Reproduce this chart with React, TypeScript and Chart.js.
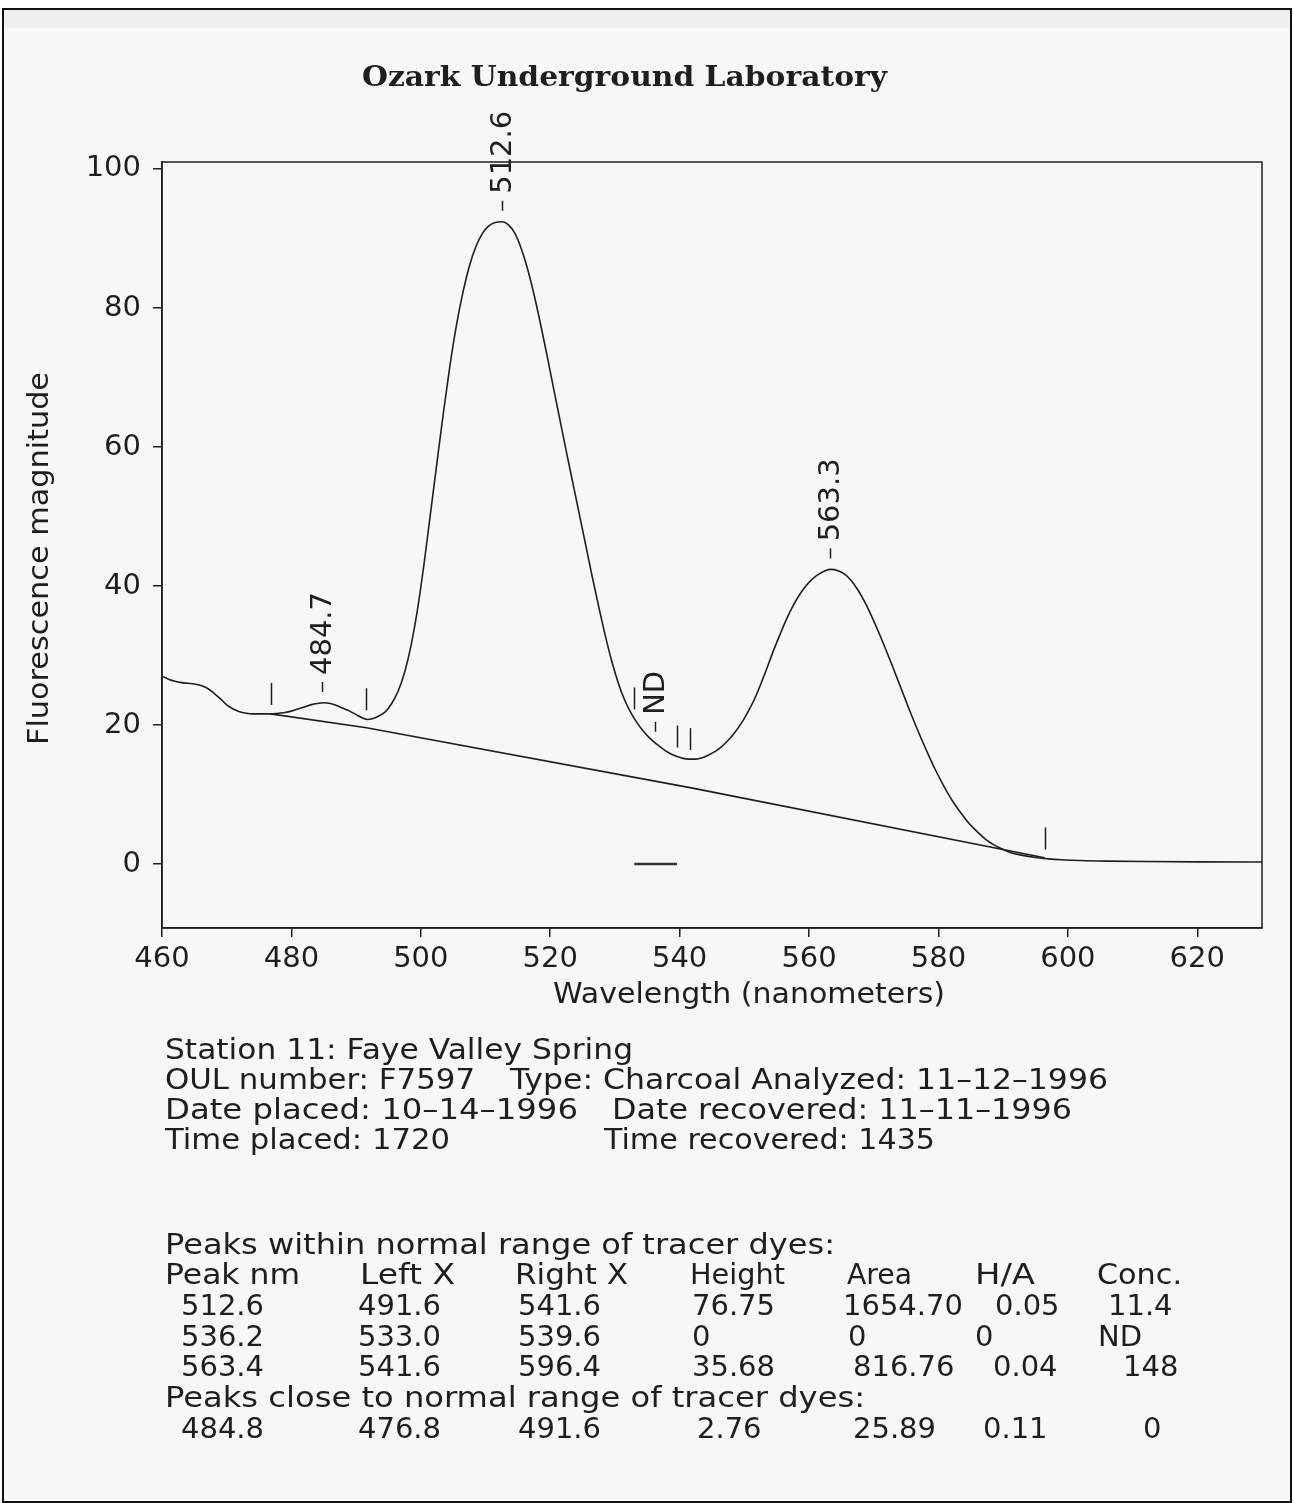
import React, { useEffect, useRef } from "react";
import { Chart, registerables } from "chart.js";

Chart.register(...registerables);

// ---------- DATA ----------
const wavelengths = [
  460, 461, 462, 463, 464, 465, 466, 467, 468, 469, 470, 471, 472, 473, 474, 475, 476, 477,
  478, 479, 480, 481, 482, 483, 484, 485, 486, 487, 488, 489, 490, 491, 491.7, 492.5, 493.5,
  494.5, 495.5, 496.5, 497.5, 498.5, 499.5, 500.5, 501.5, 502.5, 503.5, 504.5, 505.5, 506.5,
  507.5, 508.5, 509.5, 510.5, 511.5, 512.6, 513.5, 514.5, 515.5, 516.5, 517.5, 518.5, 519.5,
  520.5, 521.5, 522.5, 523.5, 524.5, 525.5, 526.5, 527.5, 528.5, 529.5, 530.5, 531.5, 532.5,
  533.5, 534.5, 535.5, 536.5, 537.5, 538.5, 539.5, 540.5, 541.5, 542.5, 543.5, 544.5, 545.5,
  546.5, 547.5, 548.5, 549.5, 550.5, 551.5, 552.5, 553.5, 554.5, 555.5, 556.5, 557.5, 558.5,
  559.5, 560.5, 561.5, 562.5, 563.3, 564.5, 565.5, 566.5, 567.5, 568.5, 569.5, 570.5, 571.5,
  572.5, 573.5, 574.5, 575.5, 576.5, 577.5, 578.5, 579.5, 580.5, 581.5, 582.5, 583.5, 584.5,
  585.5, 586.5, 587.5, 588.5, 589.5, 591, 593, 595, 597, 599, 602, 606, 612, 620, 630,
];
const magnitudes = [
  27.0, 26.6, 26.3, 26.1, 26.0, 25.9, 25.7, 25.3, 24.6, 23.8, 22.9, 22.3, 21.9, 21.7, 21.6, 21.6, 21.6, 21.6,
  21.7, 21.8, 22.0, 22.3, 22.6, 22.9, 23.1, 23.2, 23.1, 22.8, 22.4, 22.0, 21.5, 21.0, 20.8, 20.9, 21.3,
  21.9, 23.1, 24.9, 27.6, 31.5, 36.7, 43.2, 50.5, 57.8, 65.0, 71.7, 77.5, 82.2,
  86.0, 88.8, 90.7, 91.8, 92.3, 92.4, 92.0, 90.8, 88.6, 85.6, 81.9, 77.7, 73.2,
  68.5, 63.9, 59.3, 54.8, 50.3, 45.8, 41.3, 37.0, 32.9, 29.2, 26.1, 23.6, 21.7,
  20.2, 19.0, 18.0, 17.2, 16.5, 15.9, 15.5, 15.2, 15.1, 15.1, 15.3, 15.7, 16.2,
  16.9, 17.8, 18.9, 20.2, 21.8, 23.6, 25.8, 28.2, 30.7, 33.0, 35.2, 37.1, 38.7,
  40.0, 41.0, 41.7, 42.2, 42.4, 42.2, 41.7, 40.8, 39.5, 37.9, 36.0, 33.9, 31.7,
  29.4, 27.0, 24.6, 22.2, 19.9, 17.7, 15.6, 13.6, 11.8, 10.1, 8.6, 7.3, 6.1,
  5.1, 4.2, 3.4, 2.8, 2.3, 1.7, 1.25, 0.95, 0.75, 0.62, 0.5, 0.42, 0.36, 0.32, 0.3,
];
const baselineX = [476.8, 491.6, 541.6, 596.4];
const baselineY = [21.6, 19.6, 11.0, 0.9];
const ndBaseX = [533.0, 539.6];
const ndBaseY = [0, 0];
const boundaryMarks = [476.8, 491.6, 533.0, 539.6, 541.6, 596.4];
const peakLabelX = [484.7, 512.6, 536.2, 563.3];
const peakLabelText = ["484.7", "512.6", "ND", "563.3"];
const xTicks = [460, 480, 500, 520, 540, 560, 580, 600, 620];
const yTicks = [0, 20, 40, 60, 80, 100];

const titleText = "Ozark Underground Laboratory";
const xTitle = "Wavelength (nanometers)";
const yTitle = "Fluorescence magnitude";

const infoLine1 = ["Station 11: Faye Valley Spring"];
const infoLine2 = ["OUL number: F7597", "Type: Charcoal Analyzed: 11\u201312\u20131996"];
const infoLine3 = ["Date placed: 10\u201314\u20131996", "Date recovered: 11\u201311\u20131996"];
const infoLine4 = ["Time placed: 1720", "Time recovered: 1435"];

const withinHeading = "Peaks within normal range of tracer dyes:";
const closeHeading = "Peaks close to normal range of tracer dyes:";
const tableHeaders = ["Peak nm", "Left X", "Right X", "Height", "Area", "H/A", "Conc."];
const withinRow1 = ["512.6", "491.6", "541.6", "76.75", "1654.70", "0.05", "11.4"];
const withinRow2 = ["536.2", "533.0", "539.6", "0", "0", "0", "ND"];
const withinRow3 = ["563.4", "541.6", "596.4", "35.68", "816.76", "0.04", "148"];
const closeRow1 = ["484.8", "476.8", "491.6", "2.76", "25.89", "0.11", "0"];

// ---------- LAYOUT ----------
const W = 1294;
const H = 1503;
const SANS = '"DejaVu Sans", sans-serif';
const SERIF = '"DejaVu Serif", serif';
const INK = "#1e1e1e";

const headerX = [165, 360, 515, 690, 847, 975, 1097];
const headerW = [135, 95, 113, 95, 65, 60, 85];
const row1X = [181, 358, 518, 692, 843, 995, 1108];
const row2X = [181, 358, 518, 692, 848, 975, 1098];
const row3X = [181, 358, 518, 692, 853, 993, 1123];
const closeX = [181, 358, 518, 697, 853, 983, 1143];

function curveAt(v: number): number {
  for (let i = 0; i < wavelengths.length - 1; i++) {
    if (v >= wavelengths[i] && v <= wavelengths[i + 1]) {
      const t = (v - wavelengths[i]) / (wavelengths[i + 1] - wavelengths[i]);
      return magnitudes[i] + t * (magnitudes[i + 1] - magnitudes[i]);
    }
  }
  return magnitudes[magnitudes.length - 1];
}

function fitText(ctx: CanvasRenderingContext2D, text: string, x: number, y: number, w?: number) {
  const m = ctx.measureText(text).width;
  const s = w ? w / m : 1;
  ctx.save();
  ctx.translate(x, y);
  ctx.scale(s, 1);
  ctx.fillText(text, 0, 0);
  ctx.restore();
}

const decorPlugin = {
  id: "decor",
  beforeDraw(chart: any) {
    const ctx: CanvasRenderingContext2D = chart.ctx;
    ctx.save();
    ctx.fillStyle = "#ffffff";
    ctx.fillRect(0, 0, W, H);
    ctx.fillStyle = "#f7f7f7";
    ctx.fillRect(4, 9, W - 8, H - 12);
    ctx.fillStyle = "#efefef";
    ctx.fillRect(4, 10, W - 8, 18);
    ctx.strokeStyle = "#111";
    ctx.lineWidth = 2;
    ctx.strokeRect(3, 9, W - 6, H - 10);
    ctx.restore();
  },
  afterDraw(chart: any) {
    const ctx: CanvasRenderingContext2D = chart.ctx;
    const area = chart.chartArea;
    const xs = chart.scales.x;
    const ys = chart.scales.y;
    ctx.save();
    // plot box
    ctx.strokeStyle = INK;
    ctx.lineWidth = 1.5;
    ctx.strokeRect(area.left, area.top, area.right - area.left, area.bottom - area.top);

    // boundary markers
    boundaryMarks.forEach((b) => {
      const px = Math.round(xs.getPixelForValue(b)) + 0.5;
      const py = ys.getPixelForValue(curveAt(b));
      ctx.beginPath();
      ctx.moveTo(px, py - 9);
      ctx.lineTo(px, py - 31);
      ctx.stroke();
    });

    // peak labels
    ctx.fillStyle = INK;
    ctx.font = `29px ${SANS}`;
    peakLabelX.forEach((p, i) => {
      const px = Math.round(xs.getPixelForValue(p)) + 0.5;
      const py = ys.getPixelForValue(curveAt(p));
      ctx.beginPath();
      ctx.moveTo(px, py - 11);
      ctx.lineTo(px, py - 21);
      ctx.stroke();
      ctx.save();
      ctx.translate(px, py - 28);
      ctx.rotate(-Math.PI / 2);
      ctx.textAlign = "left";
      ctx.textBaseline = "middle";
      ctx.fillText(peakLabelText[i], 0, 1);
      ctx.restore();
    });

    // title
    ctx.font = `bold 28px ${SERIF}`;
    ctx.textBaseline = "middle";
    ctx.textAlign = "left";
    fitText(ctx, titleText, 362, 79, 525);

    // axis titles
    ctx.font = `28px ${SANS}`;
    fitText(ctx, xTitle, 553, 996, 392);
    ctx.save();
    ctx.translate(41, 745);
    ctx.rotate(-Math.PI / 2);
    fitText(ctx, yTitle, 0, 0, 373);
    ctx.restore();

    // info block
    ctx.font = `28px ${SANS}`;
    fitText(ctx, infoLine1[0], 165, 1052, 468);
    fitText(ctx, infoLine2[0], 165, 1082, 310);
    fitText(ctx, infoLine2[1], 510, 1082, 598);
    fitText(ctx, infoLine3[0], 165, 1112, 413);
    fitText(ctx, infoLine3[1], 612, 1112, 460);
    fitText(ctx, infoLine4[0], 165, 1142, 285);
    fitText(ctx, infoLine4[1], 604, 1142, 331);

    // table
    fitText(ctx, withinHeading, 165, 1247, 670);
    tableHeaders.forEach((t, i) => fitText(ctx, t, headerX[i], 1277, headerW[i]));
    ctx.font = `29px ${SANS}`;
    withinRow1.forEach((t, i) => fitText(ctx, t, row1X[i], 1307));
    withinRow2.forEach((t, i) => fitText(ctx, t, row2X[i], 1338));
    withinRow3.forEach((t, i) => fitText(ctx, t, row3X[i], 1368));
    ctx.font = `28px ${SANS}`;
    fitText(ctx, closeHeading, 165, 1400, 700);
    ctx.font = `29px ${SANS}`;
    closeRow1.forEach((t, i) => fitText(ctx, t, closeX[i], 1430));
    ctx.restore();
  },
};

export default function App() {
  const ref = useRef<HTMLCanvasElement | null>(null);
  useEffect(() => {
    document.body.style.margin = "0";
    const canvas = ref.current;
    if (!canvas) return;
    const spectrum = wavelengths.map((x, i) => ({ x, y: magnitudes[i] }));
    const baseline = baselineX.map((x, i) => ({ x, y: baselineY[i] }));
    const ndBase = ndBaseX.map((x, i) => ({ x, y: ndBaseY[i] }));
    const tickFont = { family: SANS, size: 29 };
    const chart = new Chart(canvas, {
      type: "line",
      data: {
        datasets: [
          {
            data: spectrum,
            borderColor: INK,
            borderWidth: 1.6,
            pointRadius: 0,
            cubicInterpolationMode: "monotone",
            fill: false,
          },
          {
            data: baseline,
            borderColor: INK,
            borderWidth: 1.6,
            pointRadius: 0,
            tension: 0,
            fill: false,
          },
          {
            data: ndBase,
            borderColor: "#333",
            borderWidth: 2.5,
            pointRadius: 0,
            tension: 0,
            fill: false,
          },
        ],
      },
      options: {
        responsive: false,
        animation: false,
        events: [],
        layout: { padding: { left: 0, right: 32, top: 162, bottom: 495 } },
        plugins: {
          legend: { display: false },
          tooltip: { enabled: false },
          title: { display: false },
        },
        scales: {
          x: {
            type: "linear",
            min: 460,
            max: 630,
            afterBuildTicks: (s: any) => {
              s.ticks = xTicks.map((v) => ({ value: v }));
            },
            afterFit: (s: any) => {
              s.height = 80;
            },
            grid: {
              display: true,
              drawOnChartArea: false,
              drawTicks: true,
              tickLength: 9,
              color: INK,
              lineWidth: 1.5,
            },
            border: { display: true, color: INK, width: 1.5 },
            ticks: {
              font: tickFont,
              color: INK,
              padding: 5,
              maxRotation: 0,
              autoSkip: false,
            },
          },
          y: {
            type: "linear",
            min: -9.2,
            max: 101,
            afterBuildTicks: (s: any) => {
              s.ticks = yTicks.map((v) => ({ value: v }));
            },
            afterFit: (s: any) => {
              s.width = 162;
            },
            grid: {
              display: true,
              drawOnChartArea: false,
              drawTicks: true,
              tickLength: 9,
              color: INK,
              lineWidth: 1.5,
            },
            border: { display: true, color: INK, width: 1.5 },
            ticks: {
              font: tickFont,
              color: INK,
              padding: 12,
              autoSkip: false,
            },
          },
        },
      },
      plugins: [decorPlugin],
    } as any);
    return () => chart.destroy();
  }, []);
  return <canvas ref={ref} width={W} height={H} style={{ display: "block" }} />;
}
